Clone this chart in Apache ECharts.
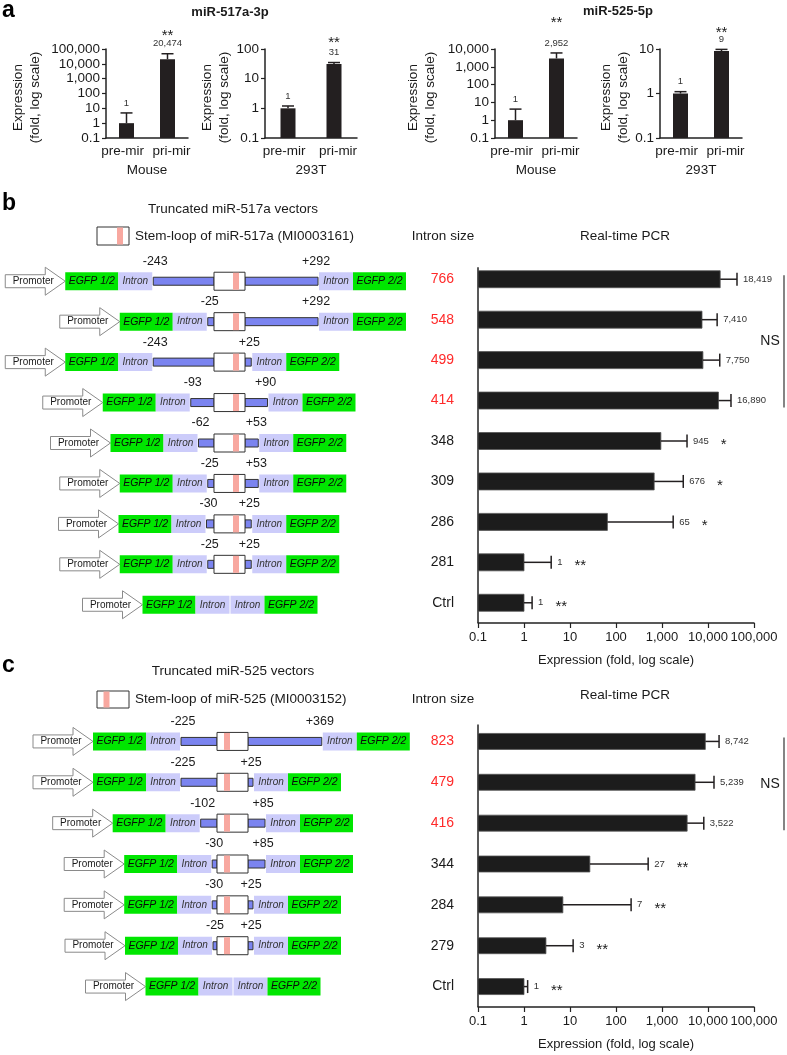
<!DOCTYPE html>
<html><head><meta charset="utf-8">
<script src="https://cdn.jsdelivr.net/npm/echarts@6/dist/echarts.min.js"></script>
<style>html,body{margin:0;padding:0;background:#fff}#c{width:787px;height:1055px}</style>
</head><body><div id="c"></div>
<script>
// ---------------- DATA ----------------
// Panel a
const aTitles = ['miR-517a-3p', 'miR-525-5p'];
const aCategories = ['pre-mir', 'pri-mir'];
const aGroups = ['Mouse', '293T', 'Mouse', '293T'];
const a1Values = [1, 20474];  const a1Err = [4.9, 48000];
const a2Values = [1, 31];     const a2Err = [1.2, 35];
const a3Values = [1, 2952];   const a3Err = [4.2, 6000];
const a4Values = [1, 9];      const a4Err = [1.1, 9.8];
const aStars = ['', '**'];
const a1Max = 100000, a2Max = 100, a3Max = 10000, a4Max = 10;
const logTickLabels = ['0.1', '1', '10', '100', '1,000', '10,000', '100,000'];

// Panel b
const bIntronSizes = ['766', '548', '499', '414', '348', '309', '286', '281', 'Ctrl'];
const bNSGroup = [1, 1, 1, 1, 0, 0, 0, 0, 0];
const bValues = [18419, 7410, 7750, 16890, 945, 676, 65, 1, 1];
const bErr = [42700, 15800, 18000, 31600, 3500, 2900, 1750, 3.9, 1.5];
const bStars = ['', '', '', '', '*', '*', '*', '**', '**'];
const bUpstream = [243, 25, 243, 93, 62, 25, 30, 25, null];
const bDownstream = [292, 292, 25, 90, 53, 53, 25, 25, null];

// Panel c
const cIntronSizes = ['823', '479', '416', '344', '284', '279', 'Ctrl'];
const cNSGroup = [1, 1, 1, 0, 0, 0, 0];
const cValues = [8742, 5239, 3522, 27, 7, 3, 1];
const cErr = [17400, 13500, 8100, 500, 213, 11.7, 1.2];
const cStars = ['', '', '', '**', '**', '**', '**'];
const cUpstream = [225, 225, 102, 30, 30, 25, null];
const cDownstream = [369, 25, 85, 85, 25, 25, null];

// ---------------- STYLE ----------------
const FF = '"Liberation Sans", Arial, Helvetica, sans-serif';
const DARK = '#231f20';
const TXT = '#1a1a1a';
const GREEN = '#00e600';
const LAV = '#ccccfa';
const BLUE = '#7b84f0';
const PINK = '#f8a8a0';
const RED = '#ff2a2a';

function fmtNum(v) {
  if (v < 1) return String(v);
  return Math.round(v).toString().replace(/\B(?=(\d{3})+(?!\d))/g, ',');
}
function tickFmt(v) {
  const i = Math.round(Math.log10(v)) + 1;
  return logTickLabels[i] != null ? logTickLabels[i] : '';
}
function textW(s, fs) {
  let w = 0;
  for (const ch of s) w += (ch === ',' ? 0.278 : 0.556) * fs;
  return w;
}

// ---------------- RENDERERS ----------------
function vRender(cfg) {
  return function (params, api) {
    const k = params.dataIndex;
    const i = api.value(0), v = api.value(1), e = api.value(2);
    const base = api.coord([i, 0.1]);
    const top = api.coord([i, v]);
    const et = api.coord([i, e]);
    const bw = 15, x = top[0];
    const ch = [
      { type: 'rect', shape: { x: x - bw / 2, y: top[1], width: bw, height: base[1] - top[1] }, style: { fill: DARK } },
      { type: 'line', shape: { x1: x, y1: top[1], x2: x, y2: et[1] }, style: { stroke: DARK, lineWidth: 1.5 } },
      { type: 'line', shape: { x1: x - 6, y1: et[1], x2: x + 6, y2: et[1] }, style: { stroke: DARK, lineWidth: 1.5 } },
      { type: 'text', style: { x: x, y: et[1] - 10, text: fmtNum(v), font: '9.5px ' + FF, fill: '#333', textAlign: 'center', textVerticalAlign: 'middle' } }
    ];
    if (aStars[k]) {
      ch.push({ type: 'text', style: { x: x, y: et[1] - 10 - cfg.starGap + 3.5, text: aStars[k], font: '15px ' + FF, fill: TXT, textAlign: 'center', textVerticalAlign: 'middle' } });
    }
    return { type: 'group', children: ch };
  };
}

function hRender(stars, barH) {
  return function (params, api) {
    const k = params.dataIndex;
    const v = api.value(0), i = api.value(1), e = api.value(2);
    const p0 = api.coord([0.1, i]);
    const p1 = api.coord([v, i]);
    const pe = api.coord([e, i]);
    const y = p0[1];
    const lbl = fmtNum(v);
    const lx = pe[0] + 6;
    const ch = [
      { type: 'rect', shape: { x: p0[0], y: y - barH / 2, width: p1[0] - p0[0], height: barH }, style: { fill: '#1c1c1c', stroke: '#555', lineWidth: 0.8 } },
      { type: 'line', shape: { x1: p1[0], y1: y, x2: pe[0], y2: y }, style: { stroke: DARK, lineWidth: 1.5 } },
      { type: 'line', shape: { x1: pe[0], y1: y - 6.5, x2: pe[0], y2: y + 6.5 }, style: { stroke: DARK, lineWidth: 1.5 } },
      { type: 'text', style: { x: lx, y: y, text: lbl, font: '9.5px ' + FF, fill: '#333', textAlign: 'left', textVerticalAlign: 'middle' } }
    ];
    if (stars[k]) {
      ch.push({ type: 'text', style: { x: lx + textW(lbl, 9.5) + 12, y: y + 4, text: stars[k], font: '15px ' + FF, fill: TXT, textAlign: 'left', textVerticalAlign: 'middle' } });
    }
    return { type: 'group', children: ch };
  };
}

function diagRender(up, down, o) {
  const H = 18, BH = 8, BOXW = 31, INW = 34, EGW = 53;
  function block(x, w, y, fill, label, font, color) {
    return [
      { type: 'rect', shape: { x: x, y: y - H / 2, width: w, height: H }, style: { fill: fill } },
      { type: 'text', style: { x: x + w / 2, y: y, text: label, font: font, fill: color, textAlign: 'center', textVerticalAlign: 'middle' } }
    ];
  }
  function promoter(T, y) {
    return [
      { type: 'polygon', shape: { points: [[T - 60, y - 6.5], [T - 20, y - 6.5], [T - 20, y - 14], [T, y], [T - 20, y + 14], [T - 20, y + 6.5], [T - 60, y + 6.5]] }, style: { fill: '#fff', stroke: '#8a8a8a', lineWidth: 1 } },
      { type: 'text', style: { x: T - 32, y: y, text: 'Promoter', font: '10px ' + FF, fill: TXT, textAlign: 'center', textVerticalAlign: 'middle' } }
    ];
  }
  const egF = 'italic 10.5px ' + FF, inF = 'italic 10px ' + FF;
  return function (params, api) {
    const k = params.dataIndex;
    const r = api.value(1);
    const p = api.coord([0, r]);
    const unit = api.coord([1, r])[0] - p[0];
    const y = p[1], bx = p[0];
    let ch = [];
    const u = up[k], d = down[k];
    if (u == null) {
      const cx = bx + BOXW / 2;
      ch = ch.concat(promoter(cx - INW - EGW, y));
      ch = ch.concat(block(cx - INW - EGW, EGW, y, GREEN, 'EGFP 1/2', egF, '#0a0a0a'));
      ch = ch.concat(block(cx - INW, INW, y, LAV, 'Intron', inF, '#333'));
      ch = ch.concat(block(cx + 1, INW, y, LAV, 'Intron', inF, '#333'));
      ch = ch.concat(block(cx + 1 + INW, EGW, y, GREEN, 'EGFP 2/2', egF, '#0a0a0a'));
    } else {
      const upX = bx - u * unit * o.upFactor;
      const dnX = bx + BOXW + d * unit;
      ch = ch.concat(promoter(upX - 1 - INW - EGW, y));
      ch = ch.concat(block(upX - 1 - INW - EGW, EGW, y, GREEN, 'EGFP 1/2', egF, '#0a0a0a'));
      ch = ch.concat(block(upX - 1 - INW, INW, y, LAV, 'Intron', inF, '#333'));
      ch.push({ type: 'rect', shape: { x: upX, y: y - BH / 2, width: bx - upX, height: BH }, style: { fill: BLUE, stroke: '#333', lineWidth: 1 } });
      ch.push({ type: 'rect', shape: { x: bx + BOXW, y: y - BH / 2, width: dnX - bx - BOXW, height: BH }, style: { fill: BLUE, stroke: '#333', lineWidth: 1 } });
      ch.push({ type: 'rect', shape: { x: bx, y: y - H / 2, width: BOXW, height: H }, style: { fill: '#fff', stroke: '#333', lineWidth: 1 } });
      ch.push({ type: 'rect', shape: { x: bx + o.stripeL, y: y - H / 2 + 0.5, width: 6, height: H - 1 }, style: { fill: PINK } });
      ch = ch.concat(block(dnX + 1, INW, y, LAV, 'Intron', inF, '#333'));
      ch = ch.concat(block(dnX + 1 + INW, EGW, y, GREEN, 'EGFP 2/2', egF, '#0a0a0a'));
      ch.push({ type: 'text', style: { x: upX + 2, y: y - 20, text: '-' + u, font: '12.5px ' + FF, fill: TXT, textAlign: 'center', textVerticalAlign: 'middle' } });
      ch.push({ type: 'text', style: { x: dnX - 2, y: y - 20, text: '+' + d, font: '12.5px ' + FF, fill: TXT, textAlign: 'center', textVerticalAlign: 'middle' } });
    }
    return { type: 'group', children: ch };
  };
}

// ---------------- OPTION ----------------
const option = {
  animation: false,
  textStyle: { fontFamily: FF },
  grid: [], xAxis: [], yAxis: [], series: []
};
const axisLineStyle = { color: '#222', width: 1.5 };

const aCharts = [
  { values: a1Values, err: a1Err, max: a1Max, left: 106, width: 82, nameGap: 62, starGap: 11 },
  { values: a2Values, err: a2Err, max: a2Max, left: 265, width: 92, nameGap: 27, starGap: 13 },
  { values: a3Values, err: a3Err, max: a3Max, left: 495, width: 82, nameGap: 56, starGap: 24 },
  { values: a4Values, err: a4Err, max: a4Max, left: 660, width: 82, nameGap: 28, starGap: 10 }
];
aCharts.forEach((c, i) => {
  option.grid.push({ left: c.left, top: 49, width: c.width, height: 89, containLabel: false, outerBoundsMode: 'none' });
  option.xAxis.push({
    gridIndex: i, type: 'category', data: aCategories,
    axisTick: { show: false }, axisLine: { lineStyle: axisLineStyle },
    axisLabel: {
      margin: 6, interval: 0,
      formatter: (val, j) => (j === 0 ? '{l|' + val + '}' : '{r|' + val + '}'),
      rich: {
        l: { fontSize: 13.5, color: TXT, fontFamily: FF, padding: [0, 8, 0, 0] },
        r: { fontSize: 13.5, color: TXT, fontFamily: FF, padding: [0, 0, 0, 8] }
      }
    },
    name: aGroups[i], nameLocation: 'middle', nameGap: 25,
    nameTextStyle: { fontSize: 13.5, color: TXT, fontFamily: FF }
  });
  option.yAxis.push({
    gridIndex: i, type: 'log', logBase: 10, min: 0.1, max: c.max, interval: 1,
    axisLine: { show: true, lineStyle: axisLineStyle },
    axisTick: { show: true, length: 4, lineStyle: { color: '#222', width: 1.2 } },
    axisLabel: { margin: 6, fontSize: 13.5, color: TXT, fontFamily: FF, formatter: tickFmt },
    splitLine: { show: false }, minorTick: { show: false },
    name: 'Expression\n(fold, log scale)', nameLocation: 'middle', nameRotate: 90, nameGap: c.nameGap,
    nameTextStyle: { fontSize: 13.5, lineHeight: 17, color: TXT, fontFamily: FF, padding: [0, 8, 0, 0] }
  });
  option.series.push({
    type: 'custom', xAxisIndex: i, yAxisIndex: i, silent: true, clip: false,
    data: c.values.map((v, k) => [k, v, c.err[k]]), encode: { x: 0, y: 1 },
    renderItem: vRender(c)
  });
});

function hChart(idx, cats, ns, vals, errs, stars, top, height, barH) {
  option.grid.push({ left: 478, top: top, width: 276, height: height, containLabel: false, outerBoundsMode: 'none' });
  option.xAxis.push({
    gridIndex: idx, type: 'log', logBase: 10, min: 0.1, max: 100000, interval: 1,
    axisLine: { show: true, lineStyle: axisLineStyle },
    axisTick: { show: true, length: 5, lineStyle: { color: '#222', width: 1.2 } },
    axisLabel: { margin: 8, fontSize: 13, color: TXT, fontFamily: FF, formatter: tickFmt },
    splitLine: { show: false }, minorTick: { show: false },
    name: 'Expression (fold, log scale)', nameLocation: 'middle', nameGap: 31,
    nameTextStyle: { fontSize: 13, color: TXT, fontFamily: FF }
  });
  option.yAxis.push({
    gridIndex: idx, type: 'category', inverse: true, data: cats,
    axisLine: { show: false }, axisTick: { show: false },
    axisLabel: {
      margin: 24, fontFamily: FF,
      formatter: (val, j) => (ns[j] ? '{r|' + val + '}' : '{k|' + val + '}'),
      rich: { r: { color: RED, fontSize: 14, fontFamily: FF }, k: { color: TXT, fontSize: 14, fontFamily: FF } }
    }
  });
  option.series.push({
    type: 'custom', xAxisIndex: idx, yAxisIndex: idx, silent: true, clip: false,
    data: vals.map((v, k) => [v, k, errs[k]]), encode: { x: 0, y: 1 },
    renderItem: hRender(stars, barH)
  });
}
hChart(4, bIntronSizes, bNSGroup, bValues, bErr, bStars, 259, 364, 17);
hChart(5, cIntronSizes, cNSGroup, cValues, cErr, cStars, 721, 286, 16);

function diagChart(idx, cats, up, down, top, height, xmin, xmax, o) {
  option.grid.push({ left: 0, top: top, width: 420, height: height, containLabel: false, outerBoundsMode: 'none' });
  option.xAxis.push({ gridIndex: idx, type: 'value', min: xmin, max: xmax, show: false });
  option.yAxis.push({ gridIndex: idx, type: 'category', inverse: true, data: cats, show: false });
  option.series.push({
    type: 'custom', xAxisIndex: idx, yAxisIndex: idx, silent: true, clip: false,
    data: cats.map((c, k) => [0, k]), encode: { x: 0, y: 1 },
    renderItem: diagRender(up, down, o)
  });
}
diagChart(6, bIntronSizes, bUpstream, bDownstream, 261, 364, -856, 824, { upFactor: 1, stripeL: 19 });
diagChart(7, cIntronSizes, cUpstream, cDownstream, 721, 286, -1085, 1015, { upFactor: 0.8, stripeL: 7 });

function txt(x, y, s, font, align, color) {
  return { type: 'text', x: x, y: y, silent: true, style: { text: s, font: font, fill: color || TXT, textAlign: align || 'center', textVerticalAlign: 'middle' } };
}
const B = 'bold ';
const staticGraphics = [
  txt(2, 11, 'a', B + '23px ' + FF, 'left', '#000'),
  txt(230, 12, aTitles[0], B + '13px ' + FF),
  txt(618, 11, aTitles[1], B + '13px ' + FF),
  txt(2, 204, 'b', B + '23px ' + FF, 'left', '#000'),
  txt(233, 209, 'Truncated miR-517a vectors', '13.5px ' + FF),
  { type: 'rect', x: 97, y: 227, silent: true, shape: { width: 32, height: 18 }, style: { fill: '#fff', stroke: '#333', lineWidth: 1 } },
  { type: 'rect', x: 117, y: 227.5, silent: true, shape: { width: 6, height: 17 }, style: { fill: PINK } },
  txt(135, 236, 'Stem-loop of miR-517a (MI0003161)', '13.5px ' + FF, 'left'),
  txt(443, 236, 'Intron size', '13.5px ' + FF),
  txt(625, 236, 'Real-time PCR', '13.5px ' + FF),
  txt(2, 666, 'c', B + '23px ' + FF, 'left', '#000'),
  txt(233, 671, 'Truncated miR-525 vectors', '13.5px ' + FF),
  { type: 'rect', x: 97, y: 691, silent: true, shape: { width: 32, height: 17 }, style: { fill: '#fff', stroke: '#333', lineWidth: 1 } },
  { type: 'rect', x: 103.5, y: 691.5, silent: true, shape: { width: 6, height: 16 }, style: { fill: PINK } },
  txt(135, 699, 'Stem-loop of miR-525 (MI0003152)', '13.5px ' + FF, 'left'),
  txt(443, 699, 'Intron size', '13.5px ' + FF),
  txt(625, 695, 'Real-time PCR', '13.5px ' + FF)
];
option.graphic = staticGraphics;

const chart = echarts.init(document.getElementById('c'), null, { renderer: 'canvas' });
chart.setOption(option);

// value-axis (category) line of the bar charts, starting a little below the grid top
function yAxisLine(xIdx, yIdx, cats, startOffset) {
  const x = chart.convertToPixel({ xAxisIndex: xIdx }, 0.1);
  const yTop = chart.convertToPixel({ yAxisIndex: yIdx }, cats[0]) - startOffset;
  const g = option.grid[xIdx];
  return { type: 'line', silent: true, shape: { x1: x, y1: yTop, x2: x, y2: g.top + g.height }, style: { stroke: '#222', lineWidth: 1.5 } };
}
function nsBracket(axisIdx, cats, group) {
  const idx = group.map((g, i) => (g ? i : -1)).filter(i => i >= 0);
  const y0 = chart.convertToPixel({ yAxisIndex: axisIdx }, cats[idx[0]]) - 4;
  const y1 = chart.convertToPixel({ yAxisIndex: axisIdx }, cats[idx[idx.length - 1]]) + 7;
  return [
    { type: 'line', silent: true, shape: { x1: 784, y1: y0, x2: 784, y2: y1 }, style: { stroke: '#333', lineWidth: 1.2 } },
    txt(770, (y0 + y1) / 2, 'NS', '14px ' + FF)
  ];
}
chart.setOption({
  graphic: staticGraphics.concat(
    nsBracket(4, bIntronSizes, bNSGroup), nsBracket(5, cIntronSizes, cNSGroup),
    [yAxisLine(4, 4, bIntronSizes, 12), yAxisLine(5, 5, cIntronSizes, 17)]
  )
});
</script></body></html>
